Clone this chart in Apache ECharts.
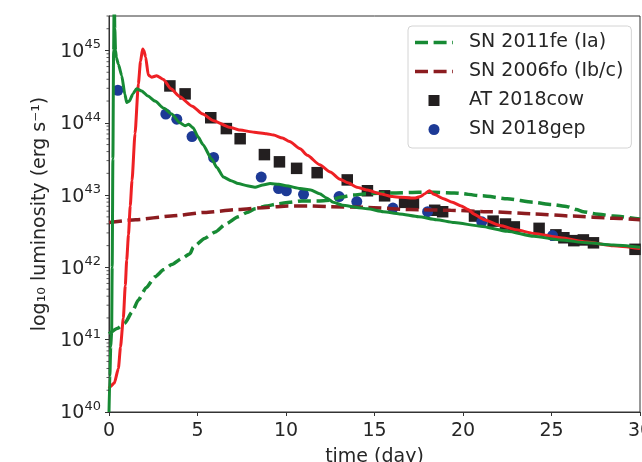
<!DOCTYPE html>
<html>
<head>
<meta charset="utf-8">
<script src="https://cdn.jsdelivr.net/npm/echarts@6/dist/echarts.min.js"></script>
<style>
html,body{margin:0;padding:0;background:#fff;}
#chart{width:642px;height:462px;}
</style>
</head>
<body>
<div id="chart"></div>
<script>
// ---- data (time in days, luminosity as log10 L [erg/s]) ----
const xTicks = [0, 5, 10, 15, 20, 25, 30];
const yTickExponents = [40, 41, 42, 43, 44, 45];
const minorFactors = [2, 3, 4, 5, 6, 7, 8, 9];
const yMaxLum = 3e45;

const sn2011fe = [[0.0,41.08],[0.5,41.16],[0.9,41.23],[1.3,41.38],[1.66,41.55],[2.1,41.72],[2.6,41.87],[3.1,41.97],[3.54,42.04],[4.1,42.12],[4.58,42.19],[4.76,42.28],[5.4,42.4],[6.0,42.49],[6.6,42.6],[7.3,42.7],[7.8,42.76],[8.25,42.81],[8.9,42.85],[9.56,42.88],[10.2,42.9],[10.9,42.92],[11.9,42.92],[12.6,42.93],[13.05,42.97],[13.8,43.0],[14.56,43.02],[16.0,43.03],[17.5,43.04],[18.3,43.04],[19.5,43.03],[21.1,42.99],[22.5,42.95],[24.0,42.9],[25.0,42.87],[25.9,42.84],[26.4,42.8],[26.8,42.77],[27.5,42.74],[28.5,42.71],[30,42.67]];

const sn2006fo = [[0,42.62],[1.5,42.66],[3.5,42.71],[5.4,42.76],[7.3,42.8],[8.9,42.83],[10.1,42.85],[11.2,42.85],[12.5,42.84],[14.6,42.83],[17.0,42.8],[19.3,42.79],[21.6,42.77],[24.0,42.74],[26.2,42.71],[28.5,42.68],[30,42.66]];

const at2018cow = [[3.44,44.51],[4.3,44.40],[5.75,44.07],[6.63,43.92],[7.41,43.78],[8.78,43.56],[9.63,43.46],[10.6,43.37],[11.76,43.31],[13.46,43.21],[14.6,43.06],[15.57,42.99],[16.7,42.90],[17.2,42.89],[18.4,42.79],[18.85,42.77],[20.65,42.71],[21.7,42.64],[22.4,42.60],[22.9,42.56],[24.3,42.54],[25.25,42.45],[25.7,42.41],[26.26,42.37],[26.8,42.38],[27.37,42.34],[29.72,42.25]];

const sn2018gep = [[0.5,44.45],[3.21,44.12],[3.83,44.05],[4.69,43.81],[5.91,43.52],[8.6,43.25],[9.58,43.09],[10.02,43.06],[10.99,43.01],[13.0,42.98],[14.0,42.91],[16.04,42.82],[18.0,42.77],[21.06,42.63],[25.06,42.44]];

const modelRed = [[0.0,40.33],[0.06,40.35],[0.3,40.4],[0.53,40.6],[0.65,40.9],[0.81,41.3],[0.92,41.75],[1.0,42.1],[1.1,42.45],[1.2,42.85],[1.3,43.2],[1.47,43.85],[1.66,44.54],[1.78,44.85],[1.9,45.02],[1.97,45.0],[2.07,44.91],[2.22,44.66],[2.41,44.63],[2.69,44.65],[3.07,44.6],[3.5,44.47],[4.0,44.36],[4.7,44.23],[5.3,44.12],[5.9,44.03],[6.8,43.94],[7.4,43.9],[8.2,43.87],[8.9,43.85],[9.3,43.83],[9.8,43.79],[10.2,43.74],[10.8,43.64],[11.2,43.55],[11.9,43.42],[12.5,43.32],[13.05,43.22],[13.5,43.17],[14.0,43.11],[14.6,43.07],[15.3,43.02],[16.0,42.98],[16.5,42.97],[17.3,42.96],[17.6,42.98],[17.85,43.02],[18.1,43.06],[18.35,43.01],[18.9,42.95],[19.4,42.9],[19.9,42.85],[20.3,42.8],[20.6,42.74],[21.2,42.66],[22.1,42.58],[23.0,42.52],[24.0,42.47],[25.5,42.41],[27.0,42.35],[28.5,42.3],[30.0,42.26]];

const modelGreen = [[0.0,40.0],[0.05,40.5],[0.1,40.9],[0.15,41.1],[0.18,42.0],[0.22,43.5],[0.26,45.0],[0.3,46.0],[0.33,45.3],[0.37,45.0],[0.42,44.9],[0.53,44.81],[0.72,44.65],[0.9,44.39],[1.0,44.28],[1.15,44.3],[1.35,44.4],[1.56,44.47],[1.85,44.44],[2.2,44.37],[2.6,44.3],[3.1,44.2],[3.54,44.12],[4.0,44.0],[4.3,43.96],[4.5,43.98],[4.75,43.93],[5.05,43.8],[5.3,43.7],[5.8,43.5],[6.1,43.38],[6.46,43.25],[6.9,43.2],[7.3,43.16],[7.8,43.13],[8.25,43.11],[8.7,43.14],[9.1,43.16],[9.6,43.15],[10.0,43.13],[10.8,43.09],[11.4,43.07],[11.9,43.02],[12.3,42.96],[12.67,42.9],[13.2,42.86],[14.0,42.83],[14.6,42.81],[15.5,42.77],[16.4,42.74],[17.5,42.7],[18.5,42.66],[19.5,42.62],[21.0,42.57],[22.5,42.5],[24.0,42.43],[25.5,42.38],[27.0,42.34],[28.5,42.31],[30.0,42.28]];

// ---- build ----
const yMin = yTickExponents[0];
const yMax = Math.log10(yMaxLum);
const minorTicks = [];
yTickExponents.forEach(n => minorFactors.forEach(k => {
  const v = n + Math.log10(k);
  if (v <= yMax + 1e-9) minorTicks.push([0, v]);
}));

const FONT = 'DejaVu Sans';
const TXT = '#262626';
const AX = '#333333';
const GREEN = '#178a34';
const RED = '#ee2024';
const DARKRED = '#8c1c20';
const BLACK = '#231f20';
const BLUE = '#1d3a96';

const DASH_ICON = 'path://M0,0h13v3.5h-13z M18.6,0h13v3.5h-13z M37.2,0h0.8v3.5h-0.8z';
const SQUARE_ICON = 'path://M0,0h11v11h-11z';

const chart = echarts.init(document.getElementById('chart'), null, {renderer: 'canvas'});
chart.setOption({
  animation: false,
  backgroundColor: '#fff',
  textStyle: {fontFamily: FONT},
  grid: {left: 109, right: 2, top: 16, bottom: 50, containLabel: false, outerBoundsMode: 'none',
         show: true, borderColor: AX, borderWidth: 1, backgroundColor: 'transparent'},
  legend: {
    data: [
      {name: 'SN 2011fe (Ia)', icon: DASH_ICON, itemStyle: {color: GREEN, opacity: 1}},
      {name: 'SN 2006fo (Ib/c)', icon: DASH_ICON, itemStyle: {color: DARKRED, opacity: 1}},
      {name: 'AT 2018cow', icon: SQUARE_ICON, itemStyle: {color: BLACK, opacity: 1}},
      {name: 'SN 2018gep', icon: 'circle', itemStyle: {color: BLUE, opacity: 1}}
    ],
    orient: 'vertical',
    left: 408, top: 26,
    padding: [7, 8, 9, 7],
    itemWidth: 38, itemHeight: 11, itemGap: 10,
    symbolKeepAspect: true,
    itemStyle: {borderWidth: 0},
    backgroundColor: 'rgba(255,255,255,0.85)',
    borderColor: '#d4d4d4', borderWidth: 1, borderRadius: 4,
    textStyle: {fontFamily: FONT, fontSize: 19, color: TXT, lineHeight: 19, padding: [0, 0, 0, 11]},
    selectedMode: false
  },
  xAxis: {
    type: 'value', min: xTicks[0], max: xTicks[xTicks.length - 1], interval: xTicks[1] - xTicks[0],
    name: 'time (day)', nameLocation: 'middle', nameGap: 36,
    nameTextStyle: {fontFamily: FONT, fontSize: 19, color: TXT},
    axisLine: {show: true, lineStyle: {color: AX, width: 1}},
    axisTick: {show: true, length: 4, lineStyle: {color: AX, width: 1}},
    axisLabel: {fontFamily: FONT, fontSize: 19, color: TXT, margin: 10, hideOverlap: false},
    splitLine: {show: false}
  },
  yAxis: {
    type: 'value', min: yMin, max: yMax, interval: 1,
    name: 'log\u2081\u2080 luminosity (erg s\u207b\u00b9)', nameLocation: 'middle', nameGap: 59,
    nameTextStyle: {fontFamily: FONT, fontSize: 19, color: TXT},
    axisLine: {show: true, lineStyle: {color: AX, width: 1}},
    axisTick: {show: true, length: 4, lineStyle: {color: AX, width: 1}},
    axisLabel: {
      margin: 8, showMaxLabel: false,
      formatter: v => (Math.abs(v - Math.round(v)) < 1e-9 && yTickExponents.includes(Math.round(v))) ? '{b|10}{s|' + Math.round(v) + '}' : '',
      rich: {
        b: {fontFamily: FONT, fontSize: 19, color: TXT, padding: [3, 0, 0, 0]},
        s: {fontFamily: FONT, fontSize: 13, color: TXT, padding: [0, 0, 11, 0]}
      }
    },
    splitLine: {show: false}
  },
  series: [
    {
      type: 'custom', name: 'minor', silent: true, clip: false, z: 5,
      data: minorTicks,
      renderItem: (params, api) => {
        const p = api.coord([api.value(0), api.value(1)]);
        return {type: 'line', shape: {x1: p[0] - 2.5, y1: p[1], x2: p[0], y2: p[1]}, style: {stroke: AX, lineWidth: 0.8}};
      }
    },
    {
      type: 'scatter', name: 'AT 2018cow', data: at2018cow, symbol: 'rect', symbolSize: 11.5,
      itemStyle: {color: BLACK, opacity: 1}, z: 2
    },
    {
      type: 'scatter', name: 'SN 2018gep', data: sn2018gep, symbol: 'circle', symbolSize: 11,
      itemStyle: {color: BLUE, opacity: 1}, z: 2
    },
    {
      type: 'line', name: 'SN 2011fe (Ia)', data: sn2011fe, showSymbol: false, symbol: 'none',
      smooth: 0.2, smoothMonotone: 'x',
      lineStyle: {color: GREEN, width: 3.5, type: [13, 5.6]}, itemStyle: {color: GREEN}, z: 3
    },
    {
      type: 'line', name: 'SN 2006fo (Ib/c)', data: sn2006fo, showSymbol: false, symbol: 'none',
      smooth: 0.2, smoothMonotone: 'x',
      lineStyle: {color: DARKRED, width: 3.5, type: [13, 5.6]}, itemStyle: {color: DARKRED}, z: 3
    },
    {
      type: 'line', name: 'model 2018cow', data: modelRed, showSymbol: false, symbol: 'none',
      smooth: 0.2, smoothMonotone: 'x',
      lineStyle: {color: RED, width: 3}, itemStyle: {color: RED}, z: 4
    },
    {
      type: 'line', name: 'model 2018gep', data: modelGreen, showSymbol: false, symbol: 'none',
      smooth: 0.2, smoothMonotone: 'x',
      lineStyle: {color: GREEN, width: 3}, itemStyle: {color: GREEN}, z: 4
    }
  ]
});
</script>
</body>
</html>
